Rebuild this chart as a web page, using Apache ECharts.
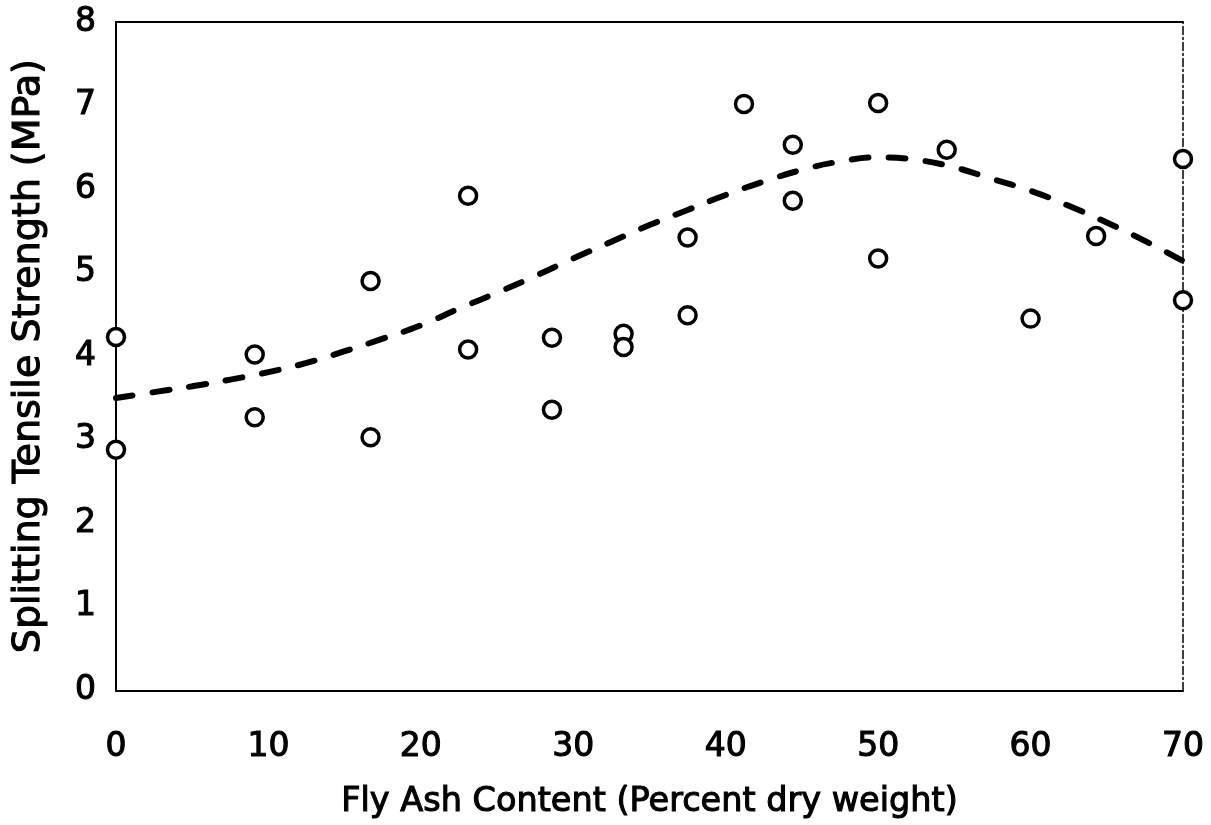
<!DOCTYPE html>
<html>
<head>
<meta charset="utf-8">
<script src="https://cdn.jsdelivr.net/npm/echarts@6/dist/echarts.min.js"></script>
<style>
  html, body { margin: 0; padding: 0; background: #fff; }
  #chart { width: 1211px; height: 825px; }
</style>
</head>
<body>
<div id="chart"></div>
<script>
// Measured splitting tensile strength (MPa) vs. fly ash content (% dry weight)
const flyAsh = [0, 0, 9.1, 9.1, 16.7, 16.7, 23.1, 23.1, 28.6, 28.6, 33.3, 33.3,
                37.5, 37.5, 41.2, 44.4, 44.4, 50, 50, 54.5, 60, 64.3, 70, 70];
const strength = [2.88, 4.23, 3.27, 4.02, 4.90, 3.03, 5.92, 4.08, 4.22, 3.36, 4.27, 4.11,
                  5.42, 4.49, 7.02, 6.53, 5.86, 7.03, 5.17, 6.47, 4.45, 5.44, 6.36, 4.67];

// Trend curve through the data
const trendX = [0, 2.5, 5, 7.5, 10, 12.5, 15, 17.5, 20, 22.5, 25, 27.5, 30, 32.5, 35,
                37.5, 40, 42.5, 45, 47.5, 50, 52.5, 55, 57.5, 60, 62.5, 65, 67.5, 70];
const trendY = [3.50, 3.57, 3.64, 3.72, 3.81, 3.92, 4.06, 4.21, 4.37, 4.57, 4.76, 4.96, 5.17,
                5.37, 5.57, 5.75, 5.93, 6.09, 6.23, 6.33, 6.38, 6.35, 6.26, 6.12, 5.98,
                5.80, 5.60, 5.38, 5.14];

const xTicks = [0, 10, 20, 30, 40, 50, 60, 70];
const yTicks = [0, 1, 2, 3, 4, 5, 6, 7, 8];

const font = 'DejaVu Sans, Liberation Sans, sans-serif';

// regular face with a slight outline to thicken strokes
const textStyle = (size) => ({ fontFamily: font, fontSize: size, color: '#000',
                               textBorderColor: '#000', textBorderWidth: 1.1 });

const chart = echarts.init(document.getElementById('chart'), null, { renderer: 'canvas' });

chart.setOption({
  animation: false,
  backgroundColor: '#ffffff',
  grid: { left: 116, right: 28, top: 22, bottom: 134 },
  xAxis: [
    {
      type: 'value', min: xTicks[0], max: xTicks[xTicks.length - 1], interval: 10,
      name: 'Fly Ash Content (Percent dry weight)',
      nameLocation: 'middle', nameGap: 95,
      nameTextStyle: textStyle(33.5),
      axisLine: { show: true, onZero: false, lineStyle: { color: '#000', width: 2 } },
      axisTick: { show: false },
      splitLine: { show: false },
      axisLabel: Object.assign({ margin: 40 }, textStyle(33))
    },
    {
      type: 'value', position: 'top', min: 0, max: 70,
      axisLine: { show: true, onZero: false, lineStyle: { color: '#000', width: 2 } },
      axisTick: { show: false }, axisLabel: { show: false }, splitLine: { show: false }
    }
  ],
  yAxis: [
    {
      type: 'value', min: yTicks[0], max: yTicks[yTicks.length - 1], interval: 1,
      name: 'Splitting Tensile Strength (MPa)',
      nameLocation: 'middle', nameGap: 68,
      nameTextStyle: textStyle(38),
      axisLine: { show: true, onZero: false, lineStyle: { color: '#000', width: 2 } },
      axisTick: { show: false },
      splitLine: { show: false },
      axisLabel: Object.assign({ margin: 20 }, textStyle(33))
    },
    {
      type: 'value', position: 'right', min: 0, max: 8,
      axisLine: { show: true, onZero: false,
                  lineStyle: { color: '#000', width: 1.5, type: [8, 3, 2, 3] } },
      axisTick: { show: false }, axisLabel: { show: false }, splitLine: { show: false }
    }
  ],
  series: [
    {
      type: 'line',
      data: trendX.map((x, i) => [x, trendY[i]]),
      smooth: true,
      showSymbol: false,
      lineStyle: { color: '#000', width: 6, type: [17, 20], cap: 'round' },
      z: 2
    },
    {
      type: 'scatter',
      data: flyAsh.map((x, i) => [x, strength[i]]),
      symbol: 'circle',
      symbolSize: 17,
      itemStyle: { color: '#fff', borderColor: '#000', borderWidth: 3.5, opacity: 1 },
      z: 3
    }
  ]
});
</script>
</body>
</html>
